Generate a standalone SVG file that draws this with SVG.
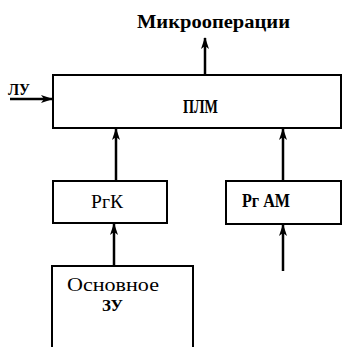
<svg xmlns="http://www.w3.org/2000/svg" width="342" height="347" viewBox="0 0 342 347">
<style>
.box{fill:#fff;stroke:#000;stroke-width:2}
.ln{stroke:#000;stroke-width:2.5;fill:none}
.t{font-family:"Liberation Serif",serif;font-weight:bold;fill:#000}
.m{font-family:"Liberation Serif",serif;fill:#000}
</style>
<defs>
<marker id="ah" viewBox="0 0 12 8" refX="11" refY="4" markerWidth="12" markerHeight="8" markerUnits="userSpaceOnUse" orient="auto">
<path d="M0,0 L12,4 L0,8 L3,4 Z" fill="#000"/>
</marker>
</defs>
<rect width="342" height="347" fill="#fff"/>
<g id="connectors">
<line class="ln" x1="205" y1="75" x2="205" y2="38" marker-end="url(#ah)"/>
<line class="ln" x1="10" y1="99" x2="52" y2="99" marker-end="url(#ah)"/>
<line class="ln" x1="116" y1="181" x2="116" y2="129" marker-end="url(#ah)"/>
<line class="ln" x1="283" y1="181" x2="283" y2="129" marker-end="url(#ah)"/>
<line class="ln" x1="114" y1="266" x2="114" y2="224" marker-end="url(#ah)"/>
<line class="ln" x1="283" y1="271" x2="283" y2="225" marker-end="url(#ah)"/>
</g>
<g id="plm">
<rect class="box" x="53" y="75" width="288" height="53"/>
<text class="t" x="183" y="113" font-size="18" textLength="35" lengthAdjust="spacingAndGlyphs">ПЛМ</text>
</g>
<g id="mikro">
<text class="t" x="137" y="28" font-size="18" textLength="153" lengthAdjust="spacingAndGlyphs">Микрооперации</text>
</g>
<g id="lu">
<text class="t" x="8" y="95" font-size="16" textLength="22" lengthAdjust="spacingAndGlyphs">ЛУ</text>
</g>
<g id="rgk">
<rect class="box" x="53" y="181" width="114" height="42"/>
<text class="m" x="91" y="208" font-size="18" textLength="32" lengthAdjust="spacingAndGlyphs">РгК</text>
</g>
<g id="rgam">
<rect class="box" x="226" y="181" width="115" height="43"/>
<text class="t" x="242" y="207" font-size="18" textLength="48" lengthAdjust="spacingAndGlyphs">Рг АМ</text>
</g>
<g id="ozu">
<path class="box" d="M52,349 V266 H193 V349"/>
<text class="m" x="67" y="291" font-size="18" textLength="92" lengthAdjust="spacingAndGlyphs">Основное</text>
<text class="t" x="102" y="311" font-size="17" textLength="21" lengthAdjust="spacingAndGlyphs">ЗУ</text>
</g>
</svg>
